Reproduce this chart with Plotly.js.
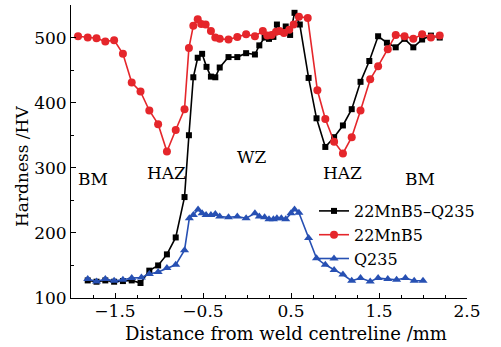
<!DOCTYPE html>
<html>
<head>
<meta charset="utf-8">
<script src="https://cdn.plot.ly/plotly-3.0.1.min.js"></script>
<style>
html,body{margin:0;padding:0;background:#fff;}
#chart{width:501px;height:347px;}
</style>
</head>
<body>
<div id="chart"></div>
<script>
// Series names
const seriesNames = ["22MnB5\u2013Q235", "22MnB5", "Q235"];

// 22MnB5-Q235 (black squares)
const blackX = [-1.81,-1.71,-1.61,-1.51,-1.41,-1.31,-1.21,-1.11,-1.01,-0.91,-0.81,-0.71,
  -0.66,-0.61,-0.56,-0.51,-0.46,-0.41,-0.36,-0.31,-0.21,-0.11,-0.01,0.09,
  0.14,0.20,0.25,0.30,0.34,0.39,0.44,0.49,0.54,0.60,
  0.70,0.79,0.89,0.99,1.09,1.19,1.29,1.39,1.49,1.59,1.69,1.79,1.89,1.99,2.09,2.19];
const blackY = [127,125,127,125,126,127,123,142,150,167,193,255,
  350,439,469,475,455,440,439,454,470,470,476,474,
  488,500,498,501,520,509,517,504,538,520,
  438,376,332,347,365,390,432,464,502,492,485,498,485,497,503,500];

// 22MnB5 (red circles)
const redX = [-1.92,-1.81,-1.71,-1.61,-1.51,-1.41,-1.31,-1.21,-1.11,-1.01,-0.91,-0.81,-0.71,
  -0.66,-0.61,-0.56,-0.52,-0.47,-0.41,-0.36,-0.31,-0.21,-0.11,-0.01,0.09,
  0.18,0.23,0.28,0.33,0.37,0.42,0.48,0.53,0.59,
  0.69,0.80,0.89,0.99,1.09,1.19,1.29,1.40,1.49,1.60,1.69,1.79,1.89,1.99,2.09,2.19];
const redY = [502,500,499,494,496,475,431,417,388,367,325,358,390,
  484,518,528,521,520,510,500,498,497,501,505,502,
  510,503,504,509,510,507,512,520,532,
  530,419,375,340,322,347,388,436,456,482,504,502,498,505,500,503];

// Q235 (blue triangles)
const blueX = [-1.81,-1.71,-1.61,-1.51,-1.41,-1.31,-1.20,-1.11,-1.01,-0.91,-0.81,-0.71,
  -0.655,-0.61,-0.556,-0.51,-0.465,-0.41,-0.36,-0.31,-0.21,-0.11,-0.01,0.09,
  0.14,0.20,0.25,0.30,0.34,0.39,0.44,0.50,0.54,0.59,
  0.70,0.79,0.89,0.99,1.09,1.19,1.29,1.40,1.49,1.60,1.70,1.80,1.90,2.00];
const blueY = [129,125.5,129,126.5,128,130.6,131.5,137,140,146,151,173.5,
  222.5,227.5,236,230,227.5,227.5,229,225,224,225,222.5,230,
  225,224,221,221,222.5,222.5,221,230,236,231,
  192,161,151,143,136,126.5,130.6,125.5,130.6,129,128,130.6,126.5,126.5];

// Axis ticks
const xTickVals = [-1.5,-0.5,0.5,1.5,2.5];
const xTickText = ["\u22121.5","\u22120.5","0.5","1.5","2.5"];
const yTickVals = [100,200,300,400,500];
const yTickText = ["100","200","300","400","500"];

// Region labels
const regionLabels = ["BM","HAZ","WZ","HAZ","BM"];
const regionX = [-1.75,-0.92,0.05,1.08,1.97];
const regionY = [283,292,316,292,283];

const FONT = "DejaVu Serif, Liberation Serif, serif";
const FS = 17;

const L = 71, R = 34, T = 5, B = 49, W = 501, H = 347;
const pw = W - L - R, ph = H - T - B;

const traces = [
  {x: blackX, y: blackY, name: seriesNames[0], type: "scatter", mode: "lines+markers",
   line: {color: "#000000", width: 1.6}, marker: {symbol: "square", size: 6, color: "#000000"}},
  {x: redX, y: redY, name: seriesNames[1], type: "scatter", mode: "lines+markers",
   line: {color: "#e5262b", width: 1.6}, marker: {symbol: "circle", size: 8, color: "#e5262b"}},
  {x: blueX, y: blueY, name: seriesNames[2], type: "scatter", mode: "lines+markers",
   line: {color: "#2750b3", width: 1.6}, marker: {symbol: "triangle-up", size: 8, color: "#2750b3"}}
];

const annotations = regionLabels.map((t, i) => ({
  x: regionX[i], y: regionY[i], xref: "x", yref: "y", text: t, showarrow: false,
  xanchor: "center", yanchor: "middle",
  font: {family: FONT, size: FS, color: "#000"}
}));
annotations.push({
  xref: "paper", yref: "paper",
  x: (286 - L) / pw, y: (H - B - 333) / ph, xanchor: "center", yanchor: "middle",
  text: "Distance from weld centreline /mm",
  showarrow: false, font: {family: FONT, size: FS + 1, color: "#000"}
});
annotations.push({
  xref: "paper", yref: "paper",
  x: (22 - L) / pw, y: (H - B - 167) / ph, xanchor: "center", yanchor: "middle",
  text: "Hardness /HV", textangle: -90, showarrow: false,
  font: {family: FONT, size: FS, color: "#000"}
});

const layout = {
  width: W, height: H,
  margin: {l: L, r: R, t: T, b: B, pad: 0},
  paper_bgcolor: "#ffffff", plot_bgcolor: "#ffffff",
  font: {family: FONT, size: FS, color: "#000"},
  showlegend: true,
  legend: {x: (314 - L) / pw, y: (H - B - 194) / ph, xanchor: "left", yanchor: "top",
    bgcolor: "rgba(255,255,255,0)", font: {family: FONT, size: 16, color: "#000"},
    itemwidth: 30, tracegroupgap: 0},
  xaxis: {range: [-2.0, 2.5], showgrid: false, zeroline: false, showline: true,
    linecolor: "#000", linewidth: 1, ticks: "inside", ticklen: 5, tickcolor: "#000",
    tickvals: xTickVals, ticktext: xTickText, tickfont: {family: FONT, size: FS},
    ticklabelstandoff: -2,
    minor: {dtick: 0.25, tick0: 0, ticks: "inside", ticklen: 3, tickcolor: "#000", showgrid: false},
    fixedrange: true},
  yaxis: {range: [100, 550], showgrid: false, zeroline: false, showline: true,
    linecolor: "#000", linewidth: 1, ticks: "inside", ticklen: 5, tickcolor: "#000",
    tickvals: yTickVals, ticktext: yTickText, tickfont: {family: FONT, size: FS},
    minor: {dtick: 50, tick0: 0, ticks: "inside", ticklen: 3, tickcolor: "#000", showgrid: false},
    fixedrange: true},
  annotations: annotations
};

Plotly.newPlot("chart", traces, layout, {displayModeBar: false, staticPlot: true});
</script>
</body>
</html>
